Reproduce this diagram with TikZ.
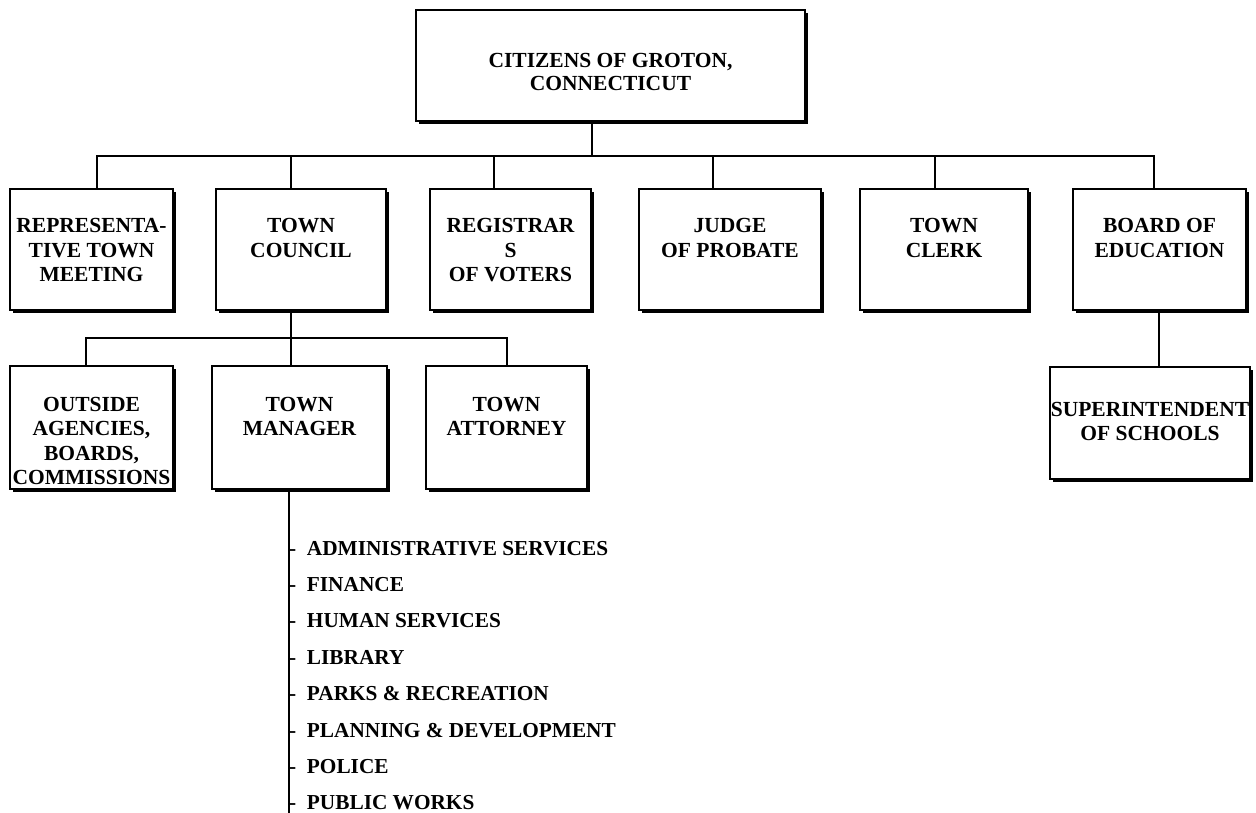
\documentclass[tikz,border=0pt]{standalone}
\usepackage{fontspec}
\setmainfont{Liberation Serif}
\usepackage{tikz}
\usetikzlibrary{
	calc,
	shadows,
	positioning
}

% Zeilen im Kasten, Grundlinie der ersten Zeile oben
\newcommand{\boxlines}[1]{\begin{tabular}[t]{@{}c@{}}#1\end{tabular}}

\tikzset{
	orgbox/.style={draw, line width=2pt, fill=white, anchor=north west,
		inner xsep=0pt, inner ysep=0pt, font=\bfseries\fontsize{21.5}{24.5}\selectfont,
		drop shadow={shadow xshift=3pt, shadow yshift=-3pt, opacity=1, fill=black}},
	rowone/.style={orgbox, text height=44pt, text depth=77pt},
	rowtwo/.style={orgbox, text height=45pt, text depth=78pt},
	conn/.style={draw, line width=2pt},
	dept/.style={anchor=base west, inner sep=0pt, font=\bfseries\fontsize{21.3}{24}\selectfont}
}

\begin{document}
\begin{tikzpicture}[x=1pt, y=-1pt]
		\useasboundingbox (0,0) rectangle (1256,813);
		
		% Buerger
		\node[orgbox, minimum width=389pt, text height=58pt, text depth=53pt] (cit) at (415,9) {\boxlines{CITIZENS OF GROTON,\\[-2pt]CONNECTICUT}};
		
		% erste Ebene
		\node[rowone, minimum width=163pt] (rtm) at (9,188) {\boxlines{REPRESENTA-\\TIVE TOWN\\MEETING}};
		\node[rowone, minimum width=170pt] (council) at (215,188) {\boxlines{TOWN\\COUNCIL}};
		\node[rowone, minimum width=161pt] (reg) at (429,188) {\boxlines{REGISTRAR\\S\\OF VOTERS}};
		\node[rowone, minimum width=182pt] (judge) at (638,188) {\boxlines{JUDGE\\OF PROBATE}};
		\node[rowone, minimum width=168pt] (clerk) at (859,188) {\boxlines{TOWN\\CLERK}};
		\node[rowone, minimum width=173pt] (board) at (1072,188) {\boxlines{BOARD OF\\EDUCATION}};
		
		% zweite Ebene
		\node[rowtwo, minimum width=163pt] (outside) at (9,365) {\boxlines{OUTSIDE\\AGENCIES,\\BOARDS,\\COMMISSIONS}};
		\node[rowtwo, minimum width=175pt] (manager) at (211,365) {\boxlines{TOWN\\MANAGER}};
		\node[rowtwo, minimum width=161pt] (attorney) at (425,365) {\boxlines{TOWN\\ATTORNEY}};
		\node[orgbox, minimum width=200pt, text height=49pt, text depth=63pt] (sup) at (1049,366) {\boxlines{SUPERINTENDENT\\OF SCHOOLS}};
		
		% Verbindungen
		\coordinate (hub) at (592,156);
		\draw[conn] (cit.south -| hub) -- (hub);
		\draw[conn] ($(rtm.north west)+(88,0)$) |- (hub);
		\draw[conn] ($(council.north west)+(76,0)$) |- (hub);
		\draw[conn] ($(reg.north west)+(65,0)$) |- (hub);
		\draw[conn] ($(judge.north west)+(75,0)$) |- (hub);
		\draw[conn] ($(clerk.north west)+(76,0)$) |- (hub);
		\draw[conn] ($(board.north west)+(82,0)$) |- (hub);
		
		\coordinate (cbus) at (291,338);
		\draw[conn] ($(council.south west)+(76,0)$) -- (cbus);
		\draw[conn] ($(outside.north west)+(77,0)$) |- (cbus);
		\draw[conn] ($(manager.north west)+(80,0)$) |- (cbus);
		\draw[conn] ($(attorney.north west)+(82,0)$) |- (cbus);
		
		\draw[conn] ($(board.south west)+(87,0)$) -- ($(sup.north west)+(110,0)$);
		
		% Abteilungen
		\coordinate (stemend) at (289,813);
		\draw[conn] ($(manager.south west)+(78,0)$) -- (stemend);
		\foreach \t [count=\i] in {ADMINISTRATIVE SERVICES, FINANCE, HUMAN SERVICES, LIBRARY,
			PARKS \& RECREATION, PLANNING \& DEVELOPMENT, POLICE, PUBLIC WORKS}
			\node[dept] (d\i) at (289,{518.6+36.4*\i}) {-\enspace\t};
	\end{tikzpicture}
\end{document}
